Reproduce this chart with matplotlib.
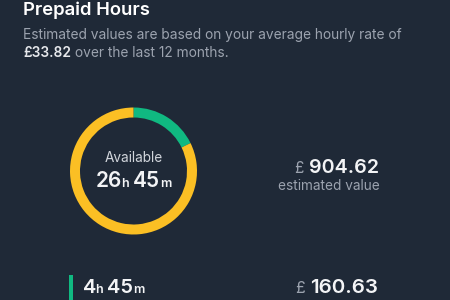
#!/usr/bin/env python3

import matplotlib
matplotlib.use('Agg')
import matplotlib.pyplot as plt

# Values shown on the card
segment_labels = ['Used', 'Remaining']
segment_minutes = [285, 1320]          # 4h 45m green, rest yellow (26h 45m total)
segment_colors = ['#10b981', '#fbbf24']
available = (26, 45)
segment_hours = (4, 45)
hourly_rate = '33.82'
value_available = '904.62'
value_segment = '160.63'

BG = '#1f2937'
W, H = 450, 300

plt.rcParams['font.family'] = ['Inter', 'DejaVu Sans']

fig = plt.figure(figsize=(W / 100, H / 100), dpi=100, facecolor=BG)
renderer = fig.canvas.get_renderer()


def put_runs(x, y, parts, ha='left'):
    # x, y in pixels from the top-left, y is the baseline
    objs = []
    for txt, size, weight, color in parts:
        t = fig.text(0, 0, txt, fontsize=size, fontweight=weight, color=color,
                     va='baseline', ha='left')
        objs.append(t)
    widths = [t.get_window_extent(renderer).width for t in objs]
    total = sum(widths)
    if ha == 'center':
        x = x - total / 2
    elif ha == 'right':
        x = x - total
    for t, w in zip(objs, widths):
        t.set_position((x / W, 1 - y / H))
        x += w


# Header
put_runs(23, 15, [('Prepaid Hours', 13.3, 'semibold', '#ffffff')])
put_runs(23, 39, [('Estimated values are based on your average hourly rate of',
                   9.9, 'normal', '#9ca3af')])
put_runs(23, 57, [('£' + hourly_rate, 9.9, 'semibold', '#e5e7eb'),
                  (' over the last 12 months.', 9.9, 'normal', '#9ca3af')])

# Donut
cx, cy, r, ring = 133.5, 171, 63.5, 10
ax = fig.add_axes([(cx - r) / W, 1 - (cy + r) / H, 2 * r / W, 2 * r / H])
ax.pie(segment_minutes, colors=segment_colors, startangle=90, counterclock=False,
       radius=1, wedgeprops=dict(width=ring / r, linewidth=0))
ax.set_xlim(-1, 1)
ax.set_ylim(-1, 1)
ax.set_aspect('equal')
ax.axis('off')

put_runs(cx, 162, [('Available', 9.8, 'normal', '#d1d5db')], ha='center')
put_runs(cx, 187, [(str(available[0]), 15, 'semibold', '#f3f4f6'),
                   ('h ', 9, 'semibold', '#f3f4f6'),
                   (str(available[1]), 15, 'semibold', '#f3f4f6'),
                   ('m', 9, 'semibold', '#f3f4f6')], ha='center')

# Value on the right
put_runs(295, 173, [('£ ', 11, 'normal', '#9ca3af'),
                    (value_available, 14.2, 'semibold', '#f3f4f6')])
put_runs(329, 190, [('estimated value', 9.8, 'normal', '#9ca3af')], ha='center')

# Segment row
bar = fig.add_axes([69 / W, 0, 4 / W, (300 - 275) / H])
bar.set_facecolor(segment_colors[0])
bar.set_xticks([])
bar.set_yticks([])
for s in bar.spines.values():
    s.set_visible(False)

put_runs(83, 293, [(str(segment_hours[0]), 14.5, 'semibold', '#f3f4f6'),
                   ('h ', 9, 'semibold', '#f3f4f6'),
                   (str(segment_hours[1]), 14.5, 'semibold', '#f3f4f6'),
                   ('m', 9, 'semibold', '#f3f4f6')])
put_runs(296, 293, [('£ ', 11.5, 'normal', '#9ca3af'),
                    (value_segment, 14.8, 'semibold', '#f3f4f6')])

fig.savefig('out.png', dpi=100, facecolor=BG)
